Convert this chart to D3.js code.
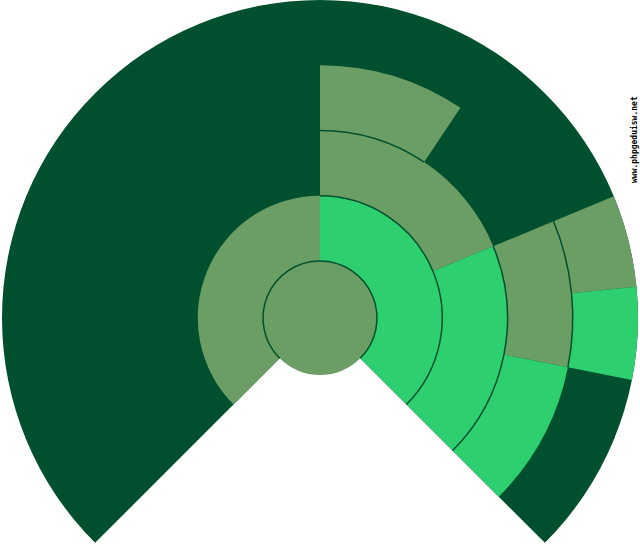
<!DOCTYPE html>
<html>
<head>
<meta charset="utf-8">
<script src="https://cdn.jsdelivr.net/npm/d3@7"></script>
<style>
  html, body { margin: 0; padding: 0; background: #fff; }
  svg { display: block; }
</style>
</head>
<body>
<svg id="chart"></svg>
<script>
// sunburst nodes: id, parent, own value, tone
const ids     = ['root', 'A', 'B', 'B1', 'B2', 'B1a', 'B2a', 'B2b', 'B2a-i', 'B2a-ii'];
const parents = ['',     'root', 'root', 'B', 'B', 'B1', 'B2', 'B2', 'B2a', 'B2a'];
const values  = [0,      4,   0,   1,    0,    1,     0,     1,     0.5,     0.5];
const tones   = ['mid', 'mid', 'bright', 'mid', 'bright', 'mid', 'mid', 'bright', 'mid', 'bright'];

const width = 640, height = 550;
const cx = 320, cy = 318;
const sweep = Math.PI * 1.5;

const color = d3.scaleOrdinal()
  .domain(['mid', 'bright'])
  .range(['#6b9e64', '#2ecf6e']);
const dark = '#00502f';

const rows = ids.map((id, i) => ({id, parent: parents[i], value: values[i], tone: tones[i]}));

const root = d3.stratify()
  .id(d => d.id)
  .parentId(d => d.parent || null)(rows)
  .sum(d => d.value);

d3.partition().size([sweep, root.height + 1])(root);

const radius = d3.scaleLinear().domain([1, root.height + 1]).range([57, 318]);
const rad = y => y <= 0 ? 0 : radius(y);

const svg = d3.select('#chart')
  .attr('width', width)
  .attr('height', height);

const g = svg.append('g')
  .attr('transform', `translate(${cx},${cy})`);

// background sector
g.append('path')
  .attr('fill', dark)
  .attr('d', d3.arc()({innerRadius: 0, outerRadius: rad(root.height + 1),
    startAngle: -sweep / 2, endAngle: sweep / 2}));

const arc = d3.arc()
  .startAngle(d => d.x0 - sweep / 2)
  .endAngle(d => d.x1 - sweep / 2)
  .innerRadius(d => rad(d.y0))
  .outerRadius(d => rad(d.y1));

const nodes = root.descendants().filter(d => d.depth > 0);

g.selectAll('path.node')
  .data(nodes)
  .join('path')
  .attr('class', 'node')
  .attr('fill', d => color(d.data.tone))
  .attr('d', arc);

// centre disc
g.append('circle')
  .attr('r', rad(root.y1))
  .attr('fill', color(root.data.tone));

// thin rim along the inner edge of each node
const rim = d3.arc()
  .startAngle(d => d.x0 - sweep / 2)
  .endAngle(d => d.x1 - sweep / 2)
  .innerRadius(d => rad(d.y0))
  .outerRadius(d => rad(d.y0));

g.selectAll('path.rim')
  .data(nodes)
  .join('path')
  .attr('class', 'rim')
  .attr('fill', 'none')
  .attr('stroke', dark)
  .attr('stroke-width', 1.5)
  .attr('d', rim);

svg.append('text')
  .attr('transform', 'translate(637,183) rotate(-90)')
  .attr('font-family', 'DejaVu Sans Mono')
  .attr('font-size', 8)
  .attr('font-weight', 'bold')
  .attr('fill', '#000')
  .text('www.phpgeduisw.net');
</script>
</body>
</html>
